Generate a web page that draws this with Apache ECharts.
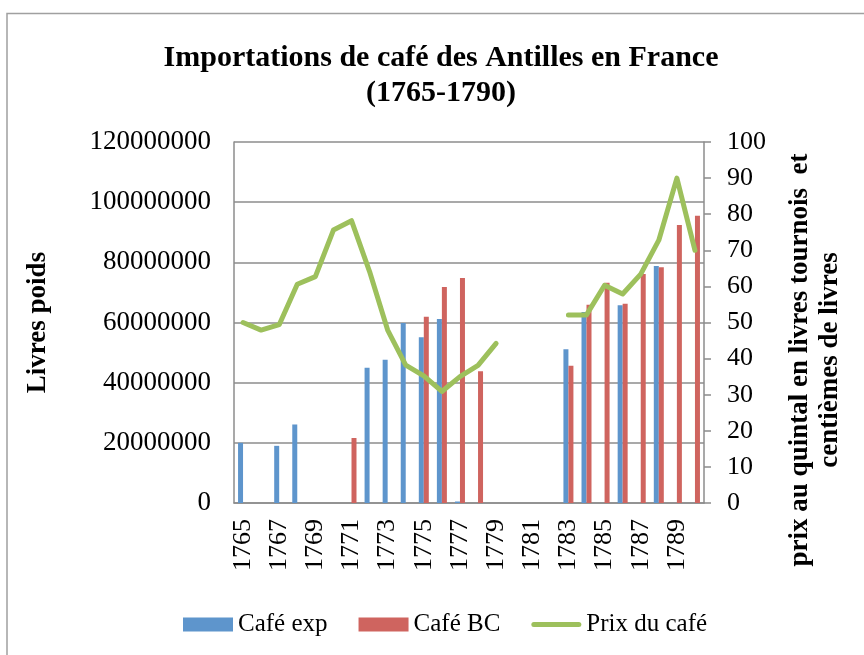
<!DOCTYPE html>
<html>
<head>
<meta charset="utf-8">
<script src="https://cdn.jsdelivr.net/npm/echarts@6/dist/echarts.min.js"></script>
<style>
html,body{margin:0;padding:0;background:#fff;}
#chart{width:864px;height:655px;}
</style>
</head>
<body>
<div id="chart"></div>
<script>
const years = ['1765','1766','1767','1768','1769','1770','1771','1772','1773','1774','1775','1776','1777','1778','1779','1780','1781','1782','1783','1784','1785','1786','1787','1788','1789','1790'];
const cafeExp = [20000000, null, 19000000, 26100000, null, null, null, 45000000, 47600000, 59800000, 55100000, 61200000, 500000, null, null, null, null, null, 51100000, 63500000, null, 65700000, null, 78800000, null, null];
const cafeBC = [null, null, null, null, null, null, 21600000, null, null, null, 61900000, 71800000, 74800000, 43800000, null, null, null, null, 45600000, 65900000, 73200000, 66200000, 76100000, 78400000, 92400000, 95500000];
const prixCafe = [50.0, 47.9, 49.4, 60.6, 62.7, 75.6, 78.2, 64.1, 47.9, 38.2, 35.2, 30.9, 35.0, 38.1, 44.2, null, null, null, 52.1, 52.1, 60.3, 57.9, 63.4, 72.8, 90.0, 70.0];
const leftTicks = {min: 0, max: 120000000, interval: 20000000};
const rightTicks = {min: 0, max: 100, interval: 10};

const FONT = '"Liberation Serif", "Times New Roman", serif';
const GREY = '#8c8c8c';
const LINE_ICON = 'path://M0,0 M50,14 M2.5,4.5 h45 a2.5,2.5 0 0 1 0,5 h-45 a2.5,2.5 0 0 1 0,-5 z';
const chart = echarts.init(document.getElementById('chart'), null, {renderer: 'canvas'});
chart.setOption({
  animation: false,
  backgroundColor: '#fff',
  title: {
    text: 'Importations de café des Antilles en France\n(1765-1790)',
    left: 436,
    top: 36,
    textAlign: 'center',
    textStyle: {fontFamily: FONT, fontWeight: 'bold', fontSize: 30, lineHeight: 35, color: '#000'}
  },
  graphic: [
    {type: 'rect', shape: {x: 7, y: 13.5, width: 900, height: 700}, style: {fill: 'none', stroke: '#a0a0a0', lineWidth: 1.5}, silent: true},
    {type: 'text', x: 815, y: 360, rotation: Math.PI / 2,
     style: {text: 'prix au quintal en livres tournois  et\ncentièmes de livres', fontFamily: FONT, fontWeight: 'bold', fontSize: 27, lineHeight: 30, fill: '#000', align: 'center', verticalAlign: 'middle'}}
  ],
  legend: {
    left: 178,
    top: 607,
    itemWidth: 50,
    itemHeight: 14,
    itemGap: 31,
    textStyle: {fontFamily: FONT, fontSize: 25, color: '#000'},
    data: [
      {name: 'Café exp', icon: 'rect'},
      {name: 'Café BC', icon: 'rect'},
      {name: 'Prix du café', icon: LINE_ICON, itemStyle: {color: '#9DC05C'}}
    ]
  },
  grid: {left: 234, right: 160, top: 142, height: 361},
  xAxis: {
    type: 'category',
    data: years,
    axisLine: {lineStyle: {color: GREY, width: 1.5}},
    axisTick: {show: false},
    axisLabel: {interval: 1, rotate: 90, margin: 16, fontFamily: FONT, fontSize: 26, color: '#000'}
  },
  yAxis: [
    {
      type: 'value', position: 'left',
      min: leftTicks.min, max: leftTicks.max, interval: leftTicks.interval,
      name: 'Livres poids', nameLocation: 'middle', nameRotate: 90, nameGap: 182,
      nameTextStyle: {fontFamily: FONT, fontWeight: 'bold', fontSize: 27, color: '#000'},
      axisLine: {show: true, lineStyle: {color: GREY, width: 1.5}},
      axisTick: {show: false},
      splitLine: {show: true, lineStyle: {color: GREY, width: 1.5}},
      axisLabel: {margin: 23, fontFamily: FONT, fontSize: 27, color: '#000', formatter: v => String(v)}
    },
    {
      type: 'value', position: 'right',
      min: rightTicks.min, max: rightTicks.max, interval: rightTicks.interval,
      axisLine: {show: true, lineStyle: {color: GREY, width: 1.5}},
      axisTick: {show: true, length: 7, lineStyle: {color: GREY, width: 1.5}},
      splitLine: {show: false},
      axisLabel: {margin: 23, fontFamily: FONT, fontSize: 26, color: '#000'}
    }
  ],
  series: [
    {name: 'Café exp', type: 'bar', data: cafeExp, barWidth: 5, barGap: '0%', itemStyle: {color: '#5E95CC'}},
    {name: 'Café BC', type: 'bar', data: cafeBC, barWidth: 5, barGap: '0%', itemStyle: {color: '#CF645F'}},
    {name: 'Prix du café', type: 'line', yAxisIndex: 1, data: prixCafe, showSymbol: false, symbol: 'none', connectNulls: false,
     lineStyle: {color: '#9DC05C', width: 5, cap: 'round', join: 'round'}, itemStyle: {color: '#9DC05C'}}
  ]
});
</script>
</body>
</html>
